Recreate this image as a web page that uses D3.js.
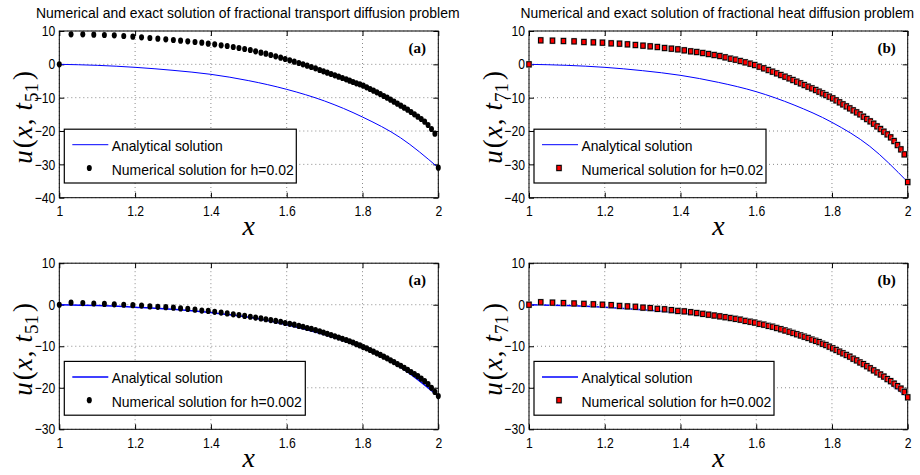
<!DOCTYPE html>
<html>
<head>
<meta charset="utf-8">
<script src="https://cdn.jsdelivr.net/npm/d3@7"></script>
<style>
  body { margin: 0; background: #fff; }
  svg { display: block; }
  .domain { display: none; }
  .tick line { stroke: #000; }
</style>
</head>
<body>
<div id="chart"></div>
<script>
// Tick values
var xTicks = [1, 1.2, 1.4, 1.6, 1.8, 2];
var yTicksTop = [10, 0, -10, -20, -30, -40];
var yTicksBottom = [10, 0, -10, -20, -30];

// Nodes of the (graded) space mesh
var meshX = [1.000, 1.031, 1.062, 1.091, 1.119, 1.145, 1.170, 1.194, 1.217, 1.239,
             1.260, 1.281, 1.301, 1.320, 1.339, 1.358, 1.376, 1.393, 1.410, 1.427,
             1.443, 1.459, 1.474, 1.489, 1.504, 1.518, 1.532, 1.545, 1.558, 1.571,
             1.584, 1.596, 1.608, 1.620, 1.632, 1.643, 1.654, 1.665, 1.676, 1.687,
             1.697, 1.707, 1.717, 1.727, 1.737, 1.747, 1.757, 1.766, 1.775, 1.784,
             1.793, 1.802, 1.811, 1.820, 1.829, 1.838, 1.847, 1.856, 1.865, 1.874,
             1.883, 1.892, 1.901, 1.910, 1.919, 1.928, 1.937, 1.946, 1.955, 1.964,
             1.973, 1.982, 1.991, 2.000];

// Numerical solutions at the mesh nodes
var numTransportH02 = [0, 9.0, 9.0, 8.9, 8.8, 8.7, 8.5, 8.3, 8.1, 7.9,
                       7.7, 7.5, 7.3, 7.1, 6.9, 6.7, 6.5, 6.2, 6.0, 5.7,
                       5.5, 5.2, 4.9, 4.6, 4.3, 3.9, 3.5, 3.2, 2.8, 2.4,
                       2.0, 1.6, 1.2, 0.8, 0.4, 0.0, -0.4, -0.8, -1.2, -1.7,
                       -2.1, -2.5, -2.9, -3.3, -3.7, -4.1, -4.5, -4.9, -5.3, -5.7,
                       -6.0, -6.4, -6.9, -7.4, -7.9, -8.4, -8.9, -9.5, -10.0, -10.6,
                       -11.2, -11.8, -12.4, -13.0, -13.6, -14.3, -15.0, -15.7, -16.4, -17.2,
                       -18.2, -19.4, -20.8, -31.0];
var numHeatH02 = [0, 7.2, 7.1, 7.0, 6.9, 6.7, 6.6, 6.5, 6.3, 6.2,
                  6.0, 5.8, 5.6, 5.4, 5.2, 4.9, 4.7, 4.5, 4.2, 3.9,
                  3.7, 3.4, 3.1, 2.8, 2.5, 2.1, 1.7, 1.4, 1.0, 0.6,
                  0.2, -0.2, -0.7, -1.2, -1.7, -2.2, -2.7, -3.2, -3.7, -4.2,
                  -4.7, -5.2, -5.7, -6.2, -6.7, -7.2, -7.7, -8.2, -8.7, -9.2,
                  -9.7, -10.2, -10.8, -11.4, -12.0, -12.6, -13.2, -13.8, -14.4, -15.0,
                  -15.7, -16.4, -17.1, -17.8, -18.6, -19.4, -20.2, -21.0, -21.9, -23.0,
                  -24.2, -25.5, -27.0, -35.3];
var numTransportH002 = [0, 0.5, 0.4, 0.3, 0.2, 0.1, 0.0, -0.1, -0.2, -0.4,
                        -0.5, -0.6, -0.7, -0.9, -1.0, -1.2, -1.4, -1.5, -1.7, -1.9,
                        -2.1, -2.3, -2.5, -2.7, -2.9, -3.1, -3.3, -3.5, -3.7, -3.9,
                        -4.1, -4.4, -4.6, -4.8, -5.1, -5.3, -5.6, -5.8, -6.1, -6.4,
                        -6.7, -7.0, -7.3, -7.6, -7.9, -8.2, -8.5, -8.8, -9.1, -9.5,
                        -9.8, -10.2, -10.5, -10.9, -11.3, -11.7, -12.1, -12.5, -12.9, -13.4,
                        -13.8, -14.3, -14.7, -15.2, -15.7, -16.2, -16.7, -17.2, -17.8, -18.4,
                        -19.1, -20.0, -21.0, -22.0];
var numHeatH002 = [0, 0.6, 0.5, 0.4, 0.3, 0.2, 0.1, 0.0, -0.1, -0.3,
                   -0.4, -0.5, -0.7, -0.8, -1.0, -1.1, -1.3, -1.5, -1.6, -1.8,
                   -2.0, -2.2, -2.4, -2.6, -2.8, -3.0, -3.2, -3.4, -3.6, -3.9,
                   -4.1, -4.3, -4.6, -4.8, -5.1, -5.3, -5.6, -5.9, -6.2, -6.5,
                   -6.8, -7.1, -7.4, -7.7, -8.0, -8.4, -8.7, -9.0, -9.4, -9.7,
                   -10.1, -10.5, -10.9, -11.3, -11.7, -12.1, -12.5, -13.0, -13.4, -13.9,
                   -14.3, -14.8, -15.3, -15.8, -16.3, -16.8, -17.3, -17.9, -18.4, -19.0,
                   -19.6, -20.2, -21.0, -22.3];

// Analytical solutions, sampled along x
var exactX = [1.0, 1.1, 1.2, 1.3, 1.4, 1.5, 1.6, 1.7, 1.8, 1.9, 2.0];
var exactTransportH02 = [0, -0.3, -0.9, -1.8, -3.0, -4.9, -7.5, -11.0, -15.8, -22.0, -31.0];
var exactHeatH02 = [0, -0.3, -0.9, -1.9, -3.3, -5.4, -8.2, -12.2, -17.4, -24.6, -35.3];
var exactTransportH002 = [0, -0.2, -0.6, -1.1, -1.9, -3.0, -4.8, -7.2, -10.4, -15.0, -22.0];
var exactHeatH002 = [0, -0.2, -0.6, -1.2, -2.0, -3.1, -4.9, -7.3, -10.7, -15.5, -22.3];

var titles = ['Numerical and exact solution of fractional transport diffusion problem',
              'Numerical and exact solution of fractional heat diffusion problem'];

var W = 920, H = 475;
var sansFont = '"Liberation Sans", Arial, Helvetica, sans-serif';
var serifFont = '"Liberation Serif", "Times New Roman", serif';
var tickFmt = d3.format('~g');

var svg = d3.select('#chart').append('svg')
    .attr('width', W)
    .attr('height', H);

var panels = [
    {left: 59.3, right: 438.3, top: 31, bottom: 197.7, yDomain: [-40, 10], yTicks: yTicksTop,
     num: numTransportH02, exact: exactTransportH02, marker: 'dot', tag: '(a)', sub: '51',
     h: '0.02', title: titles[0], titleW: 424, legW: 232},
    {left: 529, right: 907.7, top: 31, bottom: 197.7, yDomain: [-40, 10], yTicks: yTicksTop,
     num: numHeatH02, exact: exactHeatH02, marker: 'square', tag: '(b)', sub: '71',
     h: '0.02', title: titles[1], titleW: 394, legW: 232},
    {left: 59.3, right: 438.3, top: 263.2, bottom: 429.3, yDomain: [-30, 10], yTicks: yTicksBottom,
     num: numTransportH002, exact: exactTransportH002, marker: 'dot', tag: '(a)', sub: '51',
     h: '0.002', legW: 241, thick: true},
    {left: 529, right: 907.7, top: 263.2, bottom: 429.3, yDomain: [-30, 10], yTicks: yTicksBottom,
     num: numHeatH002, exact: exactHeatH002, marker: 'square', tag: '(b)', sub: '71',
     h: '0.002', legW: 240, thick: true}
];

function drawMarker(sel, kind, cx, cy) {
    if (kind === 'dot') {
        sel.append('ellipse')
            .attr('cx', cx).attr('cy', cy)
            .attr('rx', 2.5).attr('ry', 3.1)
            .attr('fill', '#000');
    } else {
        sel.append('rect')
            .attr('x', cx - 3.1).attr('y', cy - 3.5)
            .attr('width', 6.2).attr('height', 7)
            .attr('fill', '#bdbdbd');
        sel.append('rect')
            .attr('x', cx - 2.2).attr('y', cy - 2.6)
            .attr('width', 4.4).attr('height', 5.2)
            .attr('fill', '#ff0000')
            .attr('stroke', '#000')
            .attr('stroke-width', 1);
    }
}

// Squeeze a text horizontally (MATLAB export looks condensed)
function squeeze(sel, cx, cy, target) {
    var len = sel.node().getComputedTextLength();
    sel.attr('transform', 'translate(' + cx + ',' + cy + ') scale(' + (target / len) + ',1)');
}

panels.forEach(function(p) {
    var x = d3.scaleLinear().domain([1, 2]).range([p.left, p.right]);
    var y = d3.scaleLinear().domain(p.yDomain).range([p.bottom, p.top]);
    var g = svg.append('g');

    // Dotted grid
    g.append('g').selectAll('line')
        .data(xTicks)
      .enter().append('line')
        .attr('x1', function(d) { return x(d); })
        .attr('x2', function(d) { return x(d); })
        .attr('y1', p.top).attr('y2', p.bottom)
        .attr('stroke', '#8a8a8a').attr('stroke-dasharray', '1,3');
    g.append('g').selectAll('line')
        .data(p.yTicks)
      .enter().append('line')
        .attr('x1', p.left).attr('x2', p.right)
        .attr('y1', function(d) { return y(d); })
        .attr('y2', function(d) { return y(d); })
        .attr('stroke', '#8a8a8a').attr('stroke-dasharray', '1,3');

    // Axes, ticks pointing inward on all four sides
    var xb = g.append('g')
        .attr('transform', 'translate(0,' + p.bottom + ')')
        .call(d3.axisBottom(x).tickValues(xTicks).tickFormat(tickFmt).tickSize(-5).tickPadding(8.2));
    var yl = g.append('g')
        .attr('transform', 'translate(' + p.left + ',0)')
        .call(d3.axisLeft(y).tickValues(p.yTicks).tickFormat(tickFmt).tickSize(-5).tickPadding(4.8));
    g.append('g')
        .attr('transform', 'translate(0,' + p.top + ')')
        .call(d3.axisTop(x).tickValues(xTicks).tickSize(-5).tickFormat(''));
    g.append('g')
        .attr('transform', 'translate(' + p.right + ',0)')
        .call(d3.axisRight(y).tickValues(p.yTicks).tickSize(-5).tickFormat(''));

    [xb, yl].forEach(function(a) {
        a.selectAll('text')
            .attr('fill', '#000')
            .style('font-family', sansFont)
            .style('font-size', '14.5px')
            .attr('transform', 'scale(0.84,1)');
    });

    g.append('rect')
        .attr('x', p.left).attr('y', p.top)
        .attr('width', p.right - p.left).attr('height', p.bottom - p.top)
        .attr('fill', 'none').attr('stroke', '#000').attr('stroke-width', 1);

    // Analytical solution
    var line = d3.line()
        .x(function(d, i) { return x(exactX[i]); })
        .y(function(d) { return y(d); })
        .curve(d3.curveMonotoneX);
    g.append('path')
        .datum(p.exact)
        .attr('d', line)
        .attr('fill', 'none')
        .attr('stroke', '#0000ff')
        .attr('stroke-width', p.thick ? 1.5 : 1);

    // Numerical solution
    var mk = g.append('g');
    p.num.forEach(function(v, i) {
        drawMarker(mk, p.marker, x(meshX[i]), y(v));
    });

    // Panel tag
    g.append('text')
        .attr('x', p.right - 21).attr('y', p.top + 22)
        .attr('text-anchor', 'middle')
        .style('font-family', serifFont)
        .style('font-weight', 'bold')
        .style('font-size', '15px')
        .text(p.tag);

    // Title
    if (p.title) {
        var tt = svg.append('text')
            .attr('text-anchor', 'middle')
            .style('font-family', sansFont)
            .style('font-size', '15px')
            .text(p.title);
        squeeze(tt, (p.left + p.right) / 2 - 1, 18.3, p.titleW);
    }

    // Axis labels
    g.append('text')
        .attr('x', (p.left + p.right) / 2)
        .attr('y', p.bottom + 37.3)
        .attr('text-anchor', 'middle')
        .style('font-family', serifFont)
        .style('font-style', 'italic')
        .style('font-size', '28px')
        .text('x');

    var yl2 = g.append('text')
        .attr('transform', 'translate(' + (p.left - 27) + ',' + ((p.top + p.bottom) / 2 + 3) + ') rotate(-90)')
        .attr('text-anchor', 'middle')
        .style('font-family', serifFont)
        .style('font-size', '27px');
    yl2.append('tspan').style('font-style', 'italic').text('u');
    yl2.append('tspan').attr('dx', 2).text('(');
    yl2.append('tspan').style('font-style', 'italic').attr('dx', 1).text('x');
    yl2.append('tspan').attr('dx', 1).text(',');
    yl2.append('tspan').style('font-style', 'italic').attr('dx', 8).text('t');
    yl2.append('tspan').attr('dy', 6).attr('dx', 1).style('font-size', '19px').text(p.sub);
    yl2.append('tspan').attr('dy', -6).attr('dx', 3).text(')');

    // Legend
    var lx = p.left + 5, ly = p.top + 98.2;
    var lg = g.append('g');
    lg.append('rect')
        .attr('x', lx).attr('y', ly)
        .attr('width', p.legW).attr('height', 53.8)
        .attr('fill', '#fff').attr('stroke', '#000').attr('stroke-width', 1.2);
    lg.append('line')
        .attr('x1', lx + 8).attr('x2', lx + 44)
        .attr('y1', ly + 15.5).attr('y2', ly + 15.5)
        .attr('stroke', '#0000ff').attr('stroke-width', p.thick ? 1.5 : 1);
    drawMarker(lg, p.marker, lx + 25, ly + 38.8);
    var t1 = 'Analytical solution';
    var t2 = 'Numerical solution for h=' + p.h;
    lg.append('text')
        .attr('x', lx + 47.4).attr('y', ly + 21.5)
        .attr('textLength', 111).attr('lengthAdjust', 'spacingAndGlyphs')
        .style('font-family', sansFont).style('font-size', '15px')
        .text(t1);
    lg.append('text')
        .attr('x', lx + 47.4).attr('y', ly + 45.7)
        .attr('textLength', p.h === '0.02' ? 182 : 190).attr('lengthAdjust', 'spacingAndGlyphs')
        .style('font-family', sansFont).style('font-size', '15px')
        .text(t2);
});
</script>
</body>
</html>
